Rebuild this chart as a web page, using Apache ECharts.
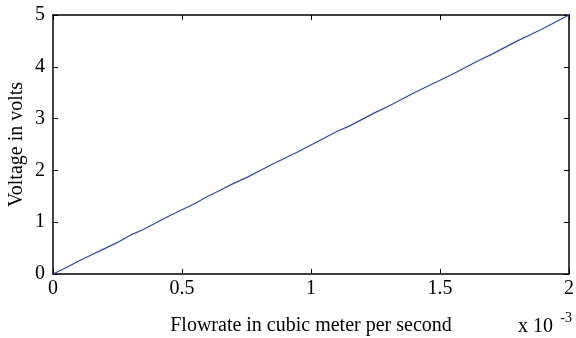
<!DOCTYPE html>
<html>
<head>
<meta charset="utf-8">
<script src="https://cdn.jsdelivr.net/npm/echarts@6/dist/echarts.min.js"></script>
<style>
  html, body { margin: 0; padding: 0; background: #fff; }
  #chart { width: 576px; height: 338px; }
</style>
</head>
<body>
<div id="chart"></div>
<script>
// Flowrate in units of 1e-3 m^3/s
const flowrate = [
  0.00, 0.05, 0.10, 0.15, 0.20, 0.25, 0.30, 0.35, 0.40, 0.45,
  0.50, 0.55, 0.60, 0.65, 0.70, 0.75, 0.80, 0.85, 0.90, 0.95,
  1.00, 1.05, 1.10, 1.15, 1.20, 1.25, 1.30, 1.35, 1.40, 1.45,
  1.50, 1.55, 1.60, 1.65, 1.70, 1.75, 1.80, 1.85, 1.90, 1.95, 2.00
];
// Sensor output voltage (V)
const voltage = [
  0.00, 0.12, 0.25, 0.37, 0.49, 0.61, 0.75, 0.86, 0.99, 1.12,
  1.24, 1.36, 1.50, 1.62, 1.75, 1.86, 1.99, 2.12, 2.24, 2.36,
  2.49, 2.62, 2.75, 2.86, 2.99, 3.12, 3.24, 3.37, 3.50, 3.62,
  3.74, 3.86, 3.99, 4.12, 4.24, 4.37, 4.50, 4.62, 4.74, 4.87, 5.00
];
const xTicks = [0, 0.5, 1, 1.5, 2];
const yTicks = [0, 1, 2, 3, 4, 5];

const serif = '"Liberation Serif", "Times New Roman", serif';
const fs = 20;

const chart = echarts.init(document.getElementById('chart'), null, { renderer: 'canvas' });

const tickStyle = { show: true, inside: true, length: 5, lineStyle: { color: '#000', width: 1 } };
const lineStyle = { show: true, onZero: false, lineStyle: { color: '#000', width: 1.5 } };

chart.setOption({
  animation: false,
  backgroundColor: '#fff',
  grid: { left: 53, right: 7, top: 15, bottom: 64, containLabel: false, outerBoundsMode: 'none' },
  xAxis: [
    {
      type: 'value', position: 'bottom', min: xTicks[0], max: xTicks[xTicks.length - 1], interval: 0.5,
      axisLine: lineStyle, axisTick: tickStyle, splitLine: { show: false },
      axisLabel: { color: '#000', fontFamily: serif, fontSize: fs, margin: 5,
        formatter: v => String(v) },
      name: 'Flowrate in cubic meter per second', nameLocation: 'middle', nameGap: 42,
      nameMoveOverlap: false,
      nameTextStyle: { color: '#000', fontFamily: serif, fontSize: fs }
    },
    {
      type: 'value', position: 'top', min: xTicks[0], max: xTicks[xTicks.length - 1], interval: 0.5,
      axisLine: lineStyle, axisTick: tickStyle, axisLabel: { show: false }, splitLine: { show: false }
    }
  ],
  yAxis: [
    {
      type: 'value', position: 'left', min: yTicks[0], max: yTicks[yTicks.length - 1], interval: 1,
      axisLine: lineStyle, axisTick: tickStyle, splitLine: { show: false },
      axisLabel: { color: '#000', fontFamily: serif, fontSize: fs, margin: 8 },
      name: 'Voltage in volts', nameLocation: 'middle', nameGap: 26,
      nameMoveOverlap: false,
      nameTextStyle: { color: '#000', fontFamily: serif, fontSize: fs }
    },
    {
      type: 'value', position: 'right', min: yTicks[0], max: yTicks[yTicks.length - 1], interval: 1,
      axisLine: lineStyle, axisTick: tickStyle, axisLabel: { show: false }, splitLine: { show: false }
    }
  ],
  series: [{
    type: 'line',
    data: flowrate.map((f, i) => [f, voltage[i]]),
    showSymbol: false,
    clip: false,
    lineStyle: { color: '#2b44b3', width: 1.2 }
  }],
  graphic: [{
    type: 'text',
    left: 518, top: 311,
    style: {
      text: '{a|x 10} {b|-3}',
      rich: {
        a: { fontFamily: serif, fontSize: fs, fill: '#000', verticalAlign: 'bottom' },
        b: { fontFamily: serif, fontSize: 14, fill: '#000', padding: [0, 0, 12, 4] }
      }
    }
  }]
});
</script>
</body>
</html>
